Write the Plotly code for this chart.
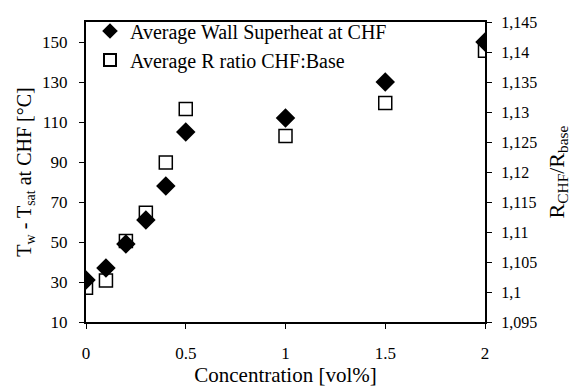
import plotly.graph_objects as go

conc = [0, 0.1, 0.2, 0.3, 0.4, 0.5, 1.0, 1.5, 2.0]
superheat = [31, 37, 49, 61, 78, 105, 112, 130, 150]
r_ratio = [1.1007, 1.1019, 1.1085, 1.1132, 1.1216, 1.1305, 1.1260, 1.1315, 1.1402]

left_ticks = [10, 30, 50, 70, 90, 110, 130, 150]
right_ticks = [1.095, 1.1, 1.105, 1.11, 1.115, 1.12, 1.125, 1.13, 1.135, 1.14, 1.145]
right_text = ["1,095", "1,1", "1,105", "1,11", "1,115", "1,12", "1,125", "1,13", "1,135", "1,14", "1,145"]
x_ticks = [0, 0.5, 1, 1.5, 2]
x_text = ["0", "0.5", "1", "1.5", "2"]

FONT = "Liberation Serif, Times New Roman, serif"

fig = go.Figure()
fig.add_trace(go.Scatter(
    x=conc, y=superheat, mode="markers", name="Average Wall Superheat at CHF",
    marker=dict(symbol="diamond", size=15, color="black"),
))
fig.add_trace(go.Scatter(
    x=conc, y=r_ratio, mode="markers", name="Average R ratio CHF:Base", yaxis="y2",
    marker=dict(symbol="square-open", size=13, color="black", line=dict(width=1.5)),
))

fig.update_layout(
    width=577, height=390,
    margin=dict(l=86, r=92, t=16, b=68),
    paper_bgcolor="white", plot_bgcolor="white",
    font=dict(family=FONT, size=17, color="black"),
    showlegend=True,
    legend=dict(x=0.01, y=1.035, xanchor="left", yanchor="top", bgcolor="rgba(0,0,0,0)",
                font=dict(size=20), tracegroupgap=0, itemsizing="constant"),
    xaxis=dict(range=[0, 2], tickvals=x_ticks, ticktext=x_text, ticks="outside", ticklen=5,
               ticklabelstandoff=10, automargin=False,
               showline=True, linecolor="black", linewidth=2, mirror=True, showgrid=False,
               zeroline=False, tickcolor="black",
               title=dict(text="Concentration [vol%]", font=dict(size=21), standoff=4)),
    yaxis=dict(range=[10, 160], tickvals=left_ticks, ticks="outside", ticklen=5,
               ticklabelstandoff=8, automargin=False,
               showline=True, linecolor="black", linewidth=2, showgrid=False, zeroline=False,
               tickcolor="black",
               title=dict(text="T<sub>w</sub> - T<sub>sat</sub> at CHF [°C]", font=dict(size=20), standoff=5)),
    yaxis2=dict(range=[1.095, 1.145], overlaying="y", side="right", tickvals=right_ticks,
                ticktext=right_text, ticks="outside", ticklen=5, showline=True, linecolor="black",
                ticklabelstandoff=6, tickfont=dict(size=16), automargin=False,
                linewidth=2, showgrid=False, zeroline=False, tickcolor="black",
                title=dict(text="R<sub>CHF</sub>/R<sub>base</sub>", font=dict(size=22), standoff=12)),
)

fig.write_html("out.html")
